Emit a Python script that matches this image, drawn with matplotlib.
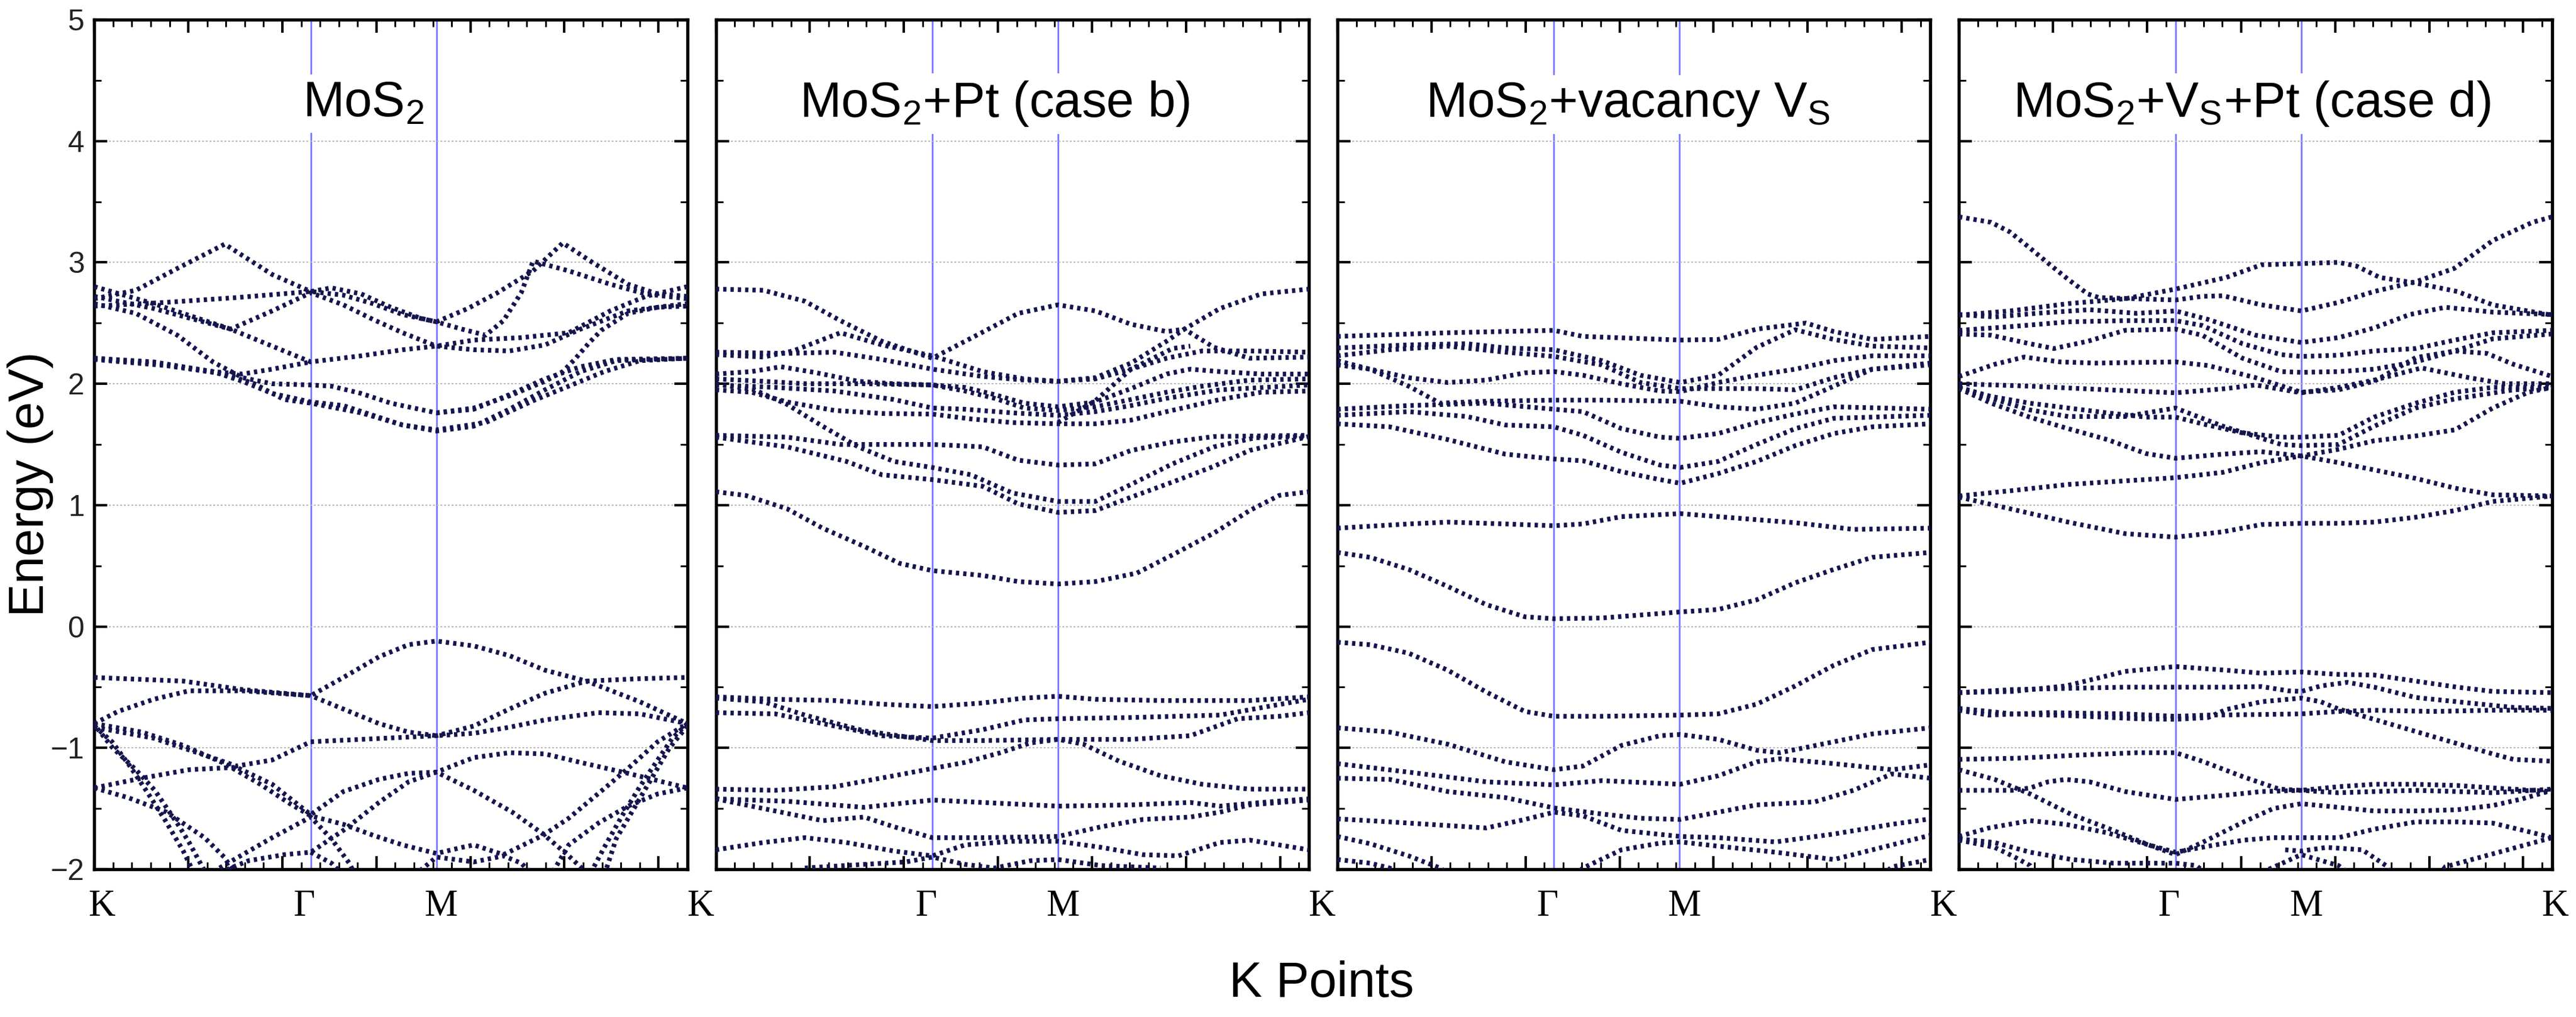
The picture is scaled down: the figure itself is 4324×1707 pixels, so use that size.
import matplotlib
matplotlib.use("Agg")
import matplotlib.pyplot as plt
import matplotlib.transforms as mtransforms
from matplotlib.ticker import MultipleLocator, NullFormatter
import numpy as np

plt.rcParams['font.family'] = ['Liberation Sans', 'DejaVu Sans']
plt.rcParams['mathtext.fontset'] = 'custom'
plt.rcParams['mathtext.rm'] = 'Liberation Sans'
plt.rcParams['mathtext.it'] = 'Liberation Sans:italic'
plt.rcParams['mathtext.bf'] = 'Liberation Sans:bold'

# ---------------- data ----------------
KPATH_LEN = 3.153                     # total k-path length (axis data units)
kpoint_fracs = [0.0, 0.365, 0.577, 1.0]
kpoint_labels = ["K", "Γ", "M", "K"]
panel_titles = [r"MoS$_2$", r"MoS$_2$+Pt (case b)",
                r"MoS$_2$+vacancy V$_\mathrm{S}$", r"MoS$_2$+V$_\mathrm{S}$+Pt (case d)"]
y_ticks = [-2, -1, 0, 1, 2, 3, 4, 5]

# bands: list of (k fraction along path, energy eV)
mos2_bands = [
    [(0,2.70),(0.07,2.77),(0.14,2.95),(0.22,3.15),(0.30,2.90),(0.365,2.76),(0.40,2.79),(0.45,2.74),(0.50,2.63),(0.55,2.54),(0.577,2.51),(0.63,2.62),(0.68,2.75),(0.74,2.93),(0.79,3.16),(0.84,3.00),(0.90,2.82),(0.95,2.74),(1.0,2.72)],
    [(0,2.72),(0.10,2.62),(0.23,2.45),(0.30,2.60),(0.365,2.75),(0.42,2.65),(0.47,2.53),(0.52,2.42),(0.577,2.31),(0.64,2.28),(0.70,2.27),(0.76,2.32),(0.82,2.45),(0.90,2.60),(1.0,2.66)],
    [(0,2.64),(0.12,2.67),(0.24,2.71),(0.365,2.76),(0.42,2.73),(0.47,2.66),(0.52,2.57),(0.577,2.51),(0.62,2.45),(0.66,2.40),(0.69,2.52),(0.72,2.75),(0.74,3.01),(0.80,2.93),(0.87,2.82),(0.93,2.74),(1.0,2.70)],
    [(0,2.80),(0.10,2.66),(0.23,2.45),(0.30,2.31),(0.365,2.18),(0.45,2.23),(0.52,2.28),(0.577,2.31),(0.64,2.36),(0.72,2.38),(0.80,2.42),(0.87,2.60),(0.93,2.72),(1.0,2.80)],
    [(0,2.66),(0.07,2.58),(0.14,2.40),(0.20,2.18),(0.25,2.05),(0.30,2.00),(0.365,1.99),(0.40,1.98),(0.45,1.92),(0.50,1.84),(0.577,1.76),(0.64,1.79),(0.70,1.91),(0.76,2.04),(0.82,2.14),(0.88,2.20),(1.0,2.21)],
    [(0,2.21),(0.10,2.18),(0.20,2.10),(0.25,2.08),(0.30,2.12),(0.365,2.18)],
    [(0,2.21),(0.10,2.17),(0.20,2.10),(0.25,2.02),(0.30,1.92),(0.365,1.85),(0.42,1.82),(0.47,1.74),(0.52,1.66),(0.577,1.61),(0.64,1.65),(0.70,1.79),(0.76,1.95),(0.82,2.10),(0.88,2.19),(1.0,2.21)],
    [(0,2.20),(0.12,2.15),(0.22,2.08),(0.27,2.00),(0.32,1.87),(0.365,1.84),(0.45,1.76),(0.52,1.66),(0.577,1.62),(0.66,1.68),(0.74,1.86),(0.80,1.98),(0.86,2.10),(0.92,2.19),(1.0,2.21)],
    [(0.577,1.76),(0.64,1.80),(0.70,1.90),(0.76,2.02),(0.79,2.10),(0.81,2.20),(0.835,2.34),(0.855,2.44),(0.90,2.58),(0.95,2.63),(1.0,2.64)],
    [(0,-0.42),(0.15,-0.45),(0.25,-0.52),(0.365,-0.57),(0.42,-0.42),(0.48,-0.25),(0.53,-0.15),(0.577,-0.12),(0.64,-0.16),(0.70,-0.24),(0.76,-0.36),(0.83,-0.45),(0.92,-0.43),(1.0,-0.42)],
    [(0,-0.80),(0.04,-0.70),(0.10,-0.60),(0.16,-0.53),(0.25,-0.53),(0.365,-0.57),(0.42,-0.68),(0.48,-0.80),(0.53,-0.87),(0.577,-0.90),(0.64,-0.88),(0.70,-0.83),(0.76,-0.77),(0.85,-0.71),(0.92,-0.72),(1.0,-0.80)],
    [(0,-0.83),(0.10,-0.92),(0.18,-1.05),(0.24,-1.15),(0.30,-1.10),(0.365,-0.95),(0.45,-0.93),(0.577,-0.90),(0.64,-0.82),(0.70,-0.68),(0.76,-0.55),(0.83,-0.45),(0.92,-0.62),(1.0,-0.80)],
    [(0,-0.80),(0.08,-0.87),(0.15,-0.98),(0.22,-1.13),(0.28,-1.30),(0.33,-1.46),(0.365,-1.56),(0.42,-1.63),(0.47,-1.72),(0.52,-1.80),(0.577,-1.87),(0.62,-1.82),(0.64,-1.80),(0.69,-1.88),(0.757,-1.72),(0.80,-1.58),(0.854,-1.36),(0.90,-1.17),(0.95,-0.95),(1.0,-0.80)],
    [(0,-1.33),(0.08,-1.25),(0.16,-1.18),(0.24,-1.16),(0.30,-1.30),(0.365,-1.55),(0.42,-1.36),(0.48,-1.26),(0.53,-1.21),(0.577,-1.20),(0.64,-1.08),(0.70,-1.04),(0.76,-1.05),(0.82,-1.12),(0.90,-1.21),(1.0,-1.33)],
    [(0.20,-2.05),(0.26,-1.93),(0.32,-1.88),(0.365,-1.86),(0.42,-1.68),(0.48,-1.45),(0.53,-1.28),(0.577,-1.20),(0.64,-1.35),(0.705,-1.53),(0.757,-1.71),(0.80,-1.89),(0.835,-2.05)],
    [(0,-1.33),(0.057,-1.41),(0.122,-1.53),(0.186,-1.74),(0.219,-1.90),(0.24,-2.05)],
    [(0.005,-0.84),(0.031,-1.00),(0.07,-1.18),(0.102,-1.35),(0.141,-1.63),(0.16,-1.78),(0.18,-1.96),(0.19,-2.05)],
    [(0.0,-0.82),(0.03,-0.95),(0.06,-1.15),(0.09,-1.37),(0.12,-1.60),(0.15,-1.85),(0.17,-2.05)],
    [(0.19,-2.05),(0.25,-1.88),(0.30,-1.74),(0.365,-1.57),(0.40,-1.75),(0.43,-1.95),(0.44,-2.05)],
    [(0.365,-1.86),(0.40,-1.95),(0.42,-2.05)],
    [(0.54,-2.05),(0.577,-1.90),(0.64,-1.94),(0.69,-1.89),(0.72,-1.95),(0.74,-2.05)],
    [(1.0,-0.82),(0.97,-1.00),(0.94,-1.25),(0.91,-1.50),(0.88,-1.75),(0.86,-2.05)],
    [(1.0,-0.80),(0.975,-0.92),(0.95,-1.10),(0.92,-1.32),(0.89,-1.56),(0.86,-1.82),(0.835,-2.05)],
    [(1.0,-1.33),(0.95,-1.38),(0.90,-1.48),(0.85,-1.62),(0.80,-1.80),(0.77,-2.05)],
]

mos2_pt_bands = [
    [(0,2.78),(0.08,2.77),(0.15,2.68),(0.21,2.52),(0.28,2.35),(0.365,2.21),(0.44,2.40),(0.51,2.58),(0.577,2.65),(0.64,2.60),(0.70,2.49),(0.76,2.43),(0.79,2.45),(0.85,2.62),(0.92,2.74),(1.0,2.78)],
    [(0,2.24),(0.08,2.22),(0.13,2.27),(0.21,2.42),(0.28,2.32),(0.365,2.23),(0.45,2.10),(0.52,2.04),(0.577,2.02),(0.64,2.05),(0.70,2.17),(0.76,2.35),(0.79,2.45),(0.84,2.30),(0.90,2.21),(1.0,2.22)],
    [(0,2.26),(0.12,2.25),(0.20,2.26),(0.28,2.20),(0.365,2.12),(0.45,2.06),(0.52,2.03),(0.577,2.02),(0.64,2.04),(0.70,2.12),(0.76,2.21),(0.82,2.27),(0.90,2.27),(1.0,2.26)],
    [(0,2.08),(0.06,2.10),(0.11,2.14),(0.17,2.09),(0.24,2.02),(0.30,2.00),(0.365,1.99),(0.42,1.97),(0.47,1.91),(0.52,1.84),(0.577,1.81),(0.64,1.85),(0.70,1.96),(0.76,2.08),(0.80,2.12),(0.85,2.10),(0.92,2.08),(1.0,2.08)],
    [(0,2.04),(0.08,2.02),(0.15,2.00),(0.25,2.00),(0.365,1.99),(0.42,1.94),(0.47,1.88),(0.52,1.80),(0.577,1.78),(0.64,1.81),(0.70,1.87),(0.76,1.93),(0.82,1.98),(0.90,2.03),(1.0,2.04)],
    [(0,1.99),(0.10,1.97),(0.20,1.94),(0.30,1.87),(0.365,1.80),(0.42,1.79),(0.50,1.76),(0.577,1.74),(0.64,1.77),(0.70,1.82),(0.76,1.88),(0.85,1.95),(1.0,1.99)],
    [(0,1.95),(0.06,1.93),(0.12,1.85),(0.20,1.78),(0.28,1.755),(0.365,1.75),(0.43,1.71),(0.50,1.68),(0.577,1.67),(0.64,1.67),(0.70,1.70),(0.76,1.77),(0.85,1.87),(0.92,1.93),(1.0,1.94)],
    [(0,2.00),(0.065,1.95),(0.12,1.83),(0.18,1.65),(0.24,1.48),(0.30,1.36),(0.365,1.31),(0.43,1.25),(0.50,1.10),(0.577,1.03),(0.64,1.03),(0.70,1.17),(0.77,1.34),(0.84,1.48),(0.91,1.555),(1.0,1.565)],
    [(0,1.575),(0.12,1.56),(0.21,1.50),(0.365,1.50),(0.45,1.48),(0.51,1.37),(0.577,1.33),(0.64,1.34),(0.70,1.45),(0.77,1.52),(0.84,1.565),(1.0,1.575)],
    [(0,1.56),(0.12,1.48),(0.22,1.36),(0.28,1.25),(0.365,1.21),(0.45,1.155),(0.51,1.01),(0.577,0.94),(0.64,0.955),(0.70,1.065),(0.77,1.19),(0.84,1.32),(0.90,1.45),(1.0,1.565)],
    [(0.577,1.68),(0.64,1.86),(0.70,2.12),(0.77,2.29),(0.80,2.31)],
    [(0,1.11),(0.05,1.08),(0.12,0.97),(0.18,0.81),(0.25,0.66),(0.31,0.52),(0.365,0.46),(0.45,0.42),(0.51,0.37),(0.577,0.35),(0.64,0.37),(0.71,0.44),(0.77,0.59),(0.84,0.77),(0.90,0.955),(0.95,1.08),(1.0,1.11)],
    [(0,-0.58),(0.10,-0.60),(0.20,-0.61),(0.28,-0.64),(0.365,-0.66),(0.45,-0.63),(0.52,-0.59),(0.577,-0.575),(0.64,-0.60),(0.75,-0.61),(0.90,-0.61),(1.0,-0.58)],
    [(0,-0.71),(0.10,-0.72),(0.18,-0.80),(0.28,-0.90),(0.365,-0.92),(0.45,-0.85),(0.52,-0.77),(0.577,-0.76),(0.70,-0.75),(0.85,-0.73),(0.93,-0.66),(1.0,-0.60)],
    [(0,-0.59),(0.08,-0.62),(0.15,-0.73),(0.25,-0.86),(0.365,-0.94),(0.45,-0.94),(0.577,-0.93),(0.70,-0.93),(0.80,-0.90),(0.88,-0.76),(0.95,-0.74),(1.0,-0.71)],
    [(0,-1.34),(0.10,-1.35),(0.20,-1.32),(0.30,-1.23),(0.365,-1.17),(0.42,-1.12),(0.48,-1.04),(0.53,-0.96),(0.577,-0.93),(0.62,-0.97),(0.68,-1.11),(0.75,-1.23),(0.82,-1.30),(0.90,-1.34),(1.0,-1.34)],
    [(0,-1.42),(0.12,-1.44),(0.25,-1.49),(0.365,-1.43),(0.45,-1.45),(0.577,-1.48),(0.70,-1.47),(0.80,-1.45),(0.85,-1.48),(0.92,-1.45),(1.0,-1.42)],
    [(0,-1.42),(0.10,-1.52),(0.18,-1.60),(0.25,-1.57),(0.30,-1.65),(0.365,-1.74),(0.45,-1.74),(0.577,-1.73),(0.65,-1.65),(0.72,-1.59),(0.80,-1.57),(0.85,-1.53),(0.90,-1.47),(1.0,-1.43)],
    [(0,-1.84),(0.08,-1.78),(0.15,-1.74),(0.22,-1.78),(0.30,-1.85),(0.365,-1.89),(0.42,-1.80),(0.50,-1.77),(0.577,-1.77),(0.65,-1.82),(0.72,-1.88),(0.78,-1.89),(0.85,-1.78),(0.90,-1.76),(1.0,-1.84)],
    [(0.15,-1.99),(0.25,-1.96),(0.32,-1.94),(0.365,-1.90),(0.42,-1.96),(0.47,-1.99),(0.53,-1.93),(0.577,-1.92),(0.65,-1.97),(0.75,-1.99)],
]

mos2_vs_bands = [
    [(0,2.39),(0.186,2.42),(0.365,2.44),(0.414,2.39),(0.578,2.36),(0.642,2.365),(0.707,2.45),(0.79,2.50),(0.837,2.43),(0.902,2.365),(1.0,2.39)],
    [(0,2.295),(0.12,2.32),(0.218,2.33),(0.283,2.295),(0.365,2.28),(0.446,2.19),(0.511,2.07),(0.578,2.01),(0.642,2.07),(0.707,2.30),(0.772,2.445),(0.837,2.365),(0.902,2.31),(1.0,2.295)],
    [(0,2.23),(0.088,2.28),(0.186,2.31),(0.283,2.26),(0.365,2.225),(0.446,2.155),(0.511,2.01),(0.578,1.96),(0.642,1.96),(0.707,1.96),(0.772,1.95),(0.837,2.05),(0.902,2.12),(1.0,2.155)],
    [(0,2.19),(0.055,2.12),(0.12,2.05),(0.186,2.01),(0.251,2.03),(0.316,2.09),(0.365,2.10),(0.414,2.07),(0.479,2.0),(0.544,1.94),(0.578,1.935),(0.642,2.01),(0.707,2.07),(0.772,2.12),(0.837,2.19),(0.902,2.23),(1.0,2.23)],
    [(0,2.155),(0.055,2.12),(0.12,1.98),(0.173,1.84),(0.251,1.856),(0.365,1.865),(0.446,1.865),(0.578,1.856),(0.642,1.81),(0.707,1.79),(0.772,1.84),(0.837,1.98),(0.902,2.12),(1.0,2.17)],
    [(0,1.79),(0.12,1.82),(0.251,1.84),(0.365,1.79),(0.414,1.77),(0.479,1.63),(0.544,1.56),(0.578,1.55),(0.642,1.59),(0.707,1.68),(0.772,1.75),(0.837,1.81),(1.0,1.79)],
    [(0,1.74),(0.12,1.77),(0.218,1.73),(0.283,1.66),(0.365,1.645),(0.414,1.575),(0.479,1.435),(0.544,1.33),(0.578,1.31),(0.642,1.36),(0.707,1.50),(0.772,1.63),(0.837,1.715),(1.0,1.74)],
    [(0,1.67),(0.088,1.645),(0.186,1.54),(0.283,1.42),(0.365,1.38),(0.414,1.365),(0.479,1.275),(0.544,1.21),(0.578,1.18),(0.642,1.26),(0.707,1.36),(0.772,1.49),(0.837,1.59),(0.902,1.645),(1.0,1.67)],
    [(0,0.81),(0.12,0.845),(0.186,0.86),(0.283,0.845),(0.365,0.83),(0.414,0.845),(0.479,0.905),(0.578,0.93),(0.642,0.905),(0.772,0.855),(0.87,0.80),(1.0,0.81)],
    [(0,0.61),(0.055,0.57),(0.12,0.47),(0.186,0.33),(0.251,0.18),(0.316,0.08),(0.365,0.064),(0.446,0.07),(0.578,0.12),(0.642,0.14),(0.707,0.22),(0.772,0.36),(0.837,0.47),(0.902,0.57),(1.0,0.61)],
    [(0,-0.13),(0.055,-0.15),(0.12,-0.22),(0.186,-0.36),(0.251,-0.54),(0.316,-0.70),(0.365,-0.74),(0.446,-0.74),(0.578,-0.73),(0.642,-0.72),(0.707,-0.64),(0.772,-0.49),(0.837,-0.32),(0.902,-0.19),(1.0,-0.13)],
    [(0,-0.835),(0.088,-0.87),(0.186,-0.97),(0.283,-1.115),(0.365,-1.18),(0.414,-1.15),(0.479,-0.98),(0.544,-0.90),(0.578,-0.89),(0.642,-0.93),(0.707,-1.02),(0.746,-1.04),(0.837,-0.95),(0.902,-0.885),(1.0,-0.835)],
    [(0,-1.13),(0.12,-1.20),(0.251,-1.28),(0.365,-1.305),(0.446,-1.27),(0.578,-1.30),(0.642,-1.23),(0.707,-1.115),(0.746,-1.09),(0.837,-1.13),(0.935,-1.18),(1.0,-1.14)],
    [(0,-1.25),(0.088,-1.26),(0.186,-1.36),(0.283,-1.41),(0.365,-1.495),(0.446,-1.545),(0.511,-1.58),(0.578,-1.59),(0.642,-1.53),(0.707,-1.47),(0.805,-1.445),(0.87,-1.35),(0.935,-1.215),(1.0,-1.25)],
    [(0,-1.585),(0.088,-1.61),(0.186,-1.64),(0.251,-1.66),(0.316,-1.59),(0.365,-1.53),(0.414,-1.56),(0.479,-1.68),(0.578,-1.73),(0.642,-1.74),(0.739,-1.775),(0.837,-1.71),(0.935,-1.63),(1.0,-1.585)],
    [(0,-1.73),(0.055,-1.79),(0.12,-1.89),(0.173,-1.99),(0.19,-2.05)],
    [(0.40,-2.05),(0.414,-1.99),(0.479,-1.84),(0.544,-1.785),(0.578,-1.775),(0.642,-1.81),(0.739,-1.86),(0.837,-1.92),(0.902,-1.84),(1.0,-1.72)],
    [(0,-1.92),(0.055,-1.95),(0.088,-1.99),(0.11,-2.05)],
    [(0.92,-2.05),(0.935,-1.98),(1.0,-1.92)],
]

mos2_vs_pt_bands = [
    [(0,3.375),(0.054,3.33),(0.086,3.25),(0.119,3.12),(0.151,2.99),(0.184,2.86),(0.217,2.74),(0.236,2.71),(0.30,2.70),(0.365,2.69),(0.41,2.72),(0.445,2.725),(0.51,2.65),(0.577,2.60),(0.64,2.67),(0.70,2.76),(0.77,2.84),(0.835,2.95),(0.90,3.18),(0.967,3.33),(1.0,3.375)],
    [(0,2.565),(0.086,2.60),(0.184,2.66),(0.28,2.70),(0.365,2.78),(0.45,2.875),(0.51,2.98),(0.577,2.99),(0.64,3.0),(0.67,2.97),(0.71,2.875),(0.77,2.83),(0.84,2.76),(0.90,2.65),(1.0,2.565)],
    [(0,2.57),(0.06,2.55),(0.13,2.58),(0.22,2.61),(0.30,2.58),(0.365,2.60),(0.42,2.53),(0.50,2.40),(0.577,2.34),(0.64,2.38),(0.70,2.46),(0.76,2.57),(0.82,2.63),(0.90,2.59),(1.0,2.57)],
    [(0,2.44),(0.086,2.47),(0.184,2.51),(0.28,2.52),(0.365,2.52),(0.41,2.48),(0.478,2.33),(0.543,2.24),(0.577,2.225),(0.64,2.235),(0.70,2.27),(0.77,2.29),(0.836,2.36),(0.90,2.42),(1.0,2.44)],
    [(0,2.41),(0.054,2.40),(0.119,2.33),(0.16,2.29),(0.217,2.35),(0.28,2.44),(0.365,2.45),(0.41,2.40),(0.478,2.21),(0.543,2.10),(0.577,2.094),(0.64,2.10),(0.70,2.12),(0.77,2.18),(0.836,2.27),(0.90,2.37),(1.0,2.41)],
    [(0,2.06),(0.06,2.16),(0.11,2.22),(0.17,2.18),(0.23,2.17),(0.365,2.18),(0.42,2.15),(0.50,2.05),(0.577,1.93),(0.64,1.95),(0.70,2.02),(0.77,2.215),(0.836,2.27),(0.89,2.25),(0.935,2.16),(1.0,2.06)],
    [(0,2.0),(0.12,1.98),(0.25,1.95),(0.365,1.925),(0.45,1.96),(0.50,1.99),(0.577,1.925),(0.64,1.97),(0.70,2.03),(0.78,2.13),(0.86,2.05),(0.92,2.0),(1.0,2.0)],
    [(0,1.97),(0.054,1.895),(0.119,1.84),(0.184,1.80),(0.25,1.76),(0.315,1.725),(0.365,1.725),(0.41,1.67),(0.478,1.595),(0.543,1.56),(0.577,1.56),(0.64,1.575),(0.70,1.725),(0.77,1.84),(0.836,1.93),(0.90,1.97),(1.0,1.97)],
    [(0,1.965),(0.054,1.88),(0.119,1.785),(0.184,1.73),(0.28,1.73),(0.365,1.80),(0.445,1.65),(0.543,1.50),(0.577,1.49),(0.64,1.50),(0.70,1.65),(0.77,1.80),(0.836,1.875),(0.935,1.95),(1.0,1.965)],
    [(0,1.96),(0.054,1.84),(0.119,1.725),(0.184,1.63),(0.25,1.54),(0.315,1.425),(0.365,1.386),(0.445,1.42),(0.51,1.44),(0.577,1.405),(0.64,1.35),(0.70,1.29),(0.77,1.22),(0.836,1.14),(0.90,1.085),(1.0,1.075)],
    [(0,1.075),(0.09,1.12),(0.184,1.17),(0.28,1.20),(0.365,1.226),(0.445,1.27),(0.51,1.35),(0.577,1.405),(0.64,1.46),(0.70,1.53),(0.77,1.57),(0.836,1.62),(0.90,1.80),(0.96,1.93),(1.0,1.97)],
    [(0,1.066),(0.086,0.97),(0.184,0.86),(0.28,0.765),(0.365,0.736),(0.445,0.78),(0.51,0.84),(0.577,0.85),(0.64,0.85),(0.70,0.86),(0.77,0.90),(0.836,0.955),(0.90,1.03),(1.0,1.075)],
    [(0,-0.545),(0.09,-0.535),(0.18,-0.49),(0.28,-0.37),(0.365,-0.33),(0.45,-0.36),(0.51,-0.385),(0.577,-0.375),(0.64,-0.395),(0.70,-0.40),(0.77,-0.45),(0.84,-0.50),(0.90,-0.535),(1.0,-0.545)],
    [(0,-0.545),(0.09,-0.52),(0.18,-0.51),(0.28,-0.50),(0.365,-0.50),(0.45,-0.50),(0.51,-0.495),(0.555,-0.53),(0.577,-0.535),(0.61,-0.49),(0.655,-0.46),(0.70,-0.50),(0.77,-0.585),(0.84,-0.62),(0.90,-0.65),(0.935,-0.667),(1.0,-0.675)],
    [(0,-0.675),(0.09,-0.72),(0.19,-0.735),(0.30,-0.76),(0.365,-0.765),(0.42,-0.75),(0.45,-0.685),(0.51,-0.62),(0.577,-0.59),(0.61,-0.62),(0.64,-0.68),(0.70,-0.765),(0.77,-0.865),(0.84,-0.965),(0.90,-1.05),(0.935,-1.095),(1.0,-1.11)],
    [(0,-0.69),(0.05,-0.73),(0.15,-0.71),(0.28,-0.72),(0.365,-0.74),(0.42,-0.73),(0.51,-0.725),(0.577,-0.72),(0.64,-0.70),(0.70,-0.69),(0.80,-0.70),(0.90,-0.69),(1.0,-0.69)],
    [(0,-1.095),(0.10,-1.085),(0.20,-1.06),(0.30,-1.04),(0.365,-1.04),(0.41,-1.11),(0.48,-1.24),(0.54,-1.34),(0.577,-1.35),(0.64,-1.32),(0.70,-1.30),(0.77,-1.30),(0.84,-1.31),(0.90,-1.33),(1.0,-1.36)],
    [(0,-1.35),(0.09,-1.35),(0.12,-1.33),(0.15,-1.28),(0.18,-1.26),(0.22,-1.28),(0.28,-1.36),(0.365,-1.425),(0.45,-1.39),(0.51,-1.36),(0.577,-1.35),(0.64,-1.37),(0.70,-1.36),(0.77,-1.35),(0.84,-1.36),(0.90,-1.37),(1.0,-1.34)],
    [(0,-1.18),(0.06,-1.26),(0.12,-1.38),(0.19,-1.55),(0.25,-1.66),(0.32,-1.80),(0.365,-1.88),(0.41,-1.78),(0.48,-1.61),(0.53,-1.50),(0.577,-1.46),(0.64,-1.49),(0.70,-1.52),(0.77,-1.52),(0.84,-1.51),(0.90,-1.475),(0.95,-1.42),(1.0,-1.35)],
    [(0,-1.73),(0.05,-1.66),(0.12,-1.60),(0.18,-1.63),(0.25,-1.70),(0.32,-1.80),(0.365,-1.86),(0.42,-1.81),(0.48,-1.76),(0.53,-1.74),(0.577,-1.74),(0.64,-1.74),(0.70,-1.67),(0.77,-1.61),(0.84,-1.61),(0.90,-1.62),(0.96,-1.69),(1.0,-1.74)],
    [(0,-1.75),(0.06,-1.78),(0.12,-1.86),(0.19,-1.92),(0.26,-1.95),(0.365,-1.95),(0.40,-1.97),(0.42,-2.05)],
    [(0.50,-2.05),(0.577,-1.88),(0.64,-1.97),(0.66,-2.05)],
    [(0.55,-1.84),(0.577,-1.85),(0.62,-1.82),(0.68,-1.84),(0.72,-1.97),(0.73,-2.05)],
    [(0.81,-2.05),(0.82,-1.98),(0.88,-1.90),(0.94,-1.82),(1.0,-1.74)],
    [(0,-1.76),(0.06,-1.82),(0.09,-1.89),(0.12,-1.97),(0.13,-2.05)],
]

all_bands = [mos2_bands, mos2_pt_bands, mos2_vs_bands, mos2_vs_pt_bands]
title_x = [0.454, 0.47, 0.49, 0.494]

# ---------------- figure ----------------
BAND_COLOR = "#15154d"
VLINE_COLOR = "#7c7cff"

fig = plt.figure(figsize=(4324/300, 1707/300), dpi=300)
left0, step, width = 0.0366, 0.2413, 0.2302
bottom, height = 0.1453, 0.8354
label_shift = [-0.011, 0.008, 0.022]   # small visual offsets of Γ, M, K labels (axes fraction)

for i, bands in enumerate(all_bands):
    ax = fig.add_axes([left0 + i*step, bottom, width, height])
    ax.set_xlim(0, KPATH_LEN)
    ax.set_ylim(-2, 5)
    for f in kpoint_fracs[1:3]:
        ax.axvline(f*KPATH_LEN, color=VLINE_COLOR, lw=0.7, zorder=1)
    for band in bands:
        kf = np.array([p[0] for p in band])
        en = np.array([p[1] for p in band])
        ax.plot(kf*KPATH_LEN, en, color=BAND_COLOR, lw=1.9,
                ls=(0, (0.7, 0.85)), zorder=3)
    ax.yaxis.set_major_locator(plt.FixedLocator(y_ticks))
    ax.yaxis.set_minor_locator(MultipleLocator(0.5))
    ax.xaxis.set_major_locator(MultipleLocator(0.5))
    ax.xaxis.set_minor_locator(MultipleLocator(0.1))
    ax.xaxis.set_major_formatter(NullFormatter())
    ax.grid(axis='y', which='major', color='#b8b8b8', ls=(0, (1.5, 1.5)), lw=0.5, zorder=0)
    ax.tick_params(which='both', direction='in', top=True, right=True,
                   bottom=True, left=True)
    ax.tick_params(which='major', length=5.2, width=1.0)
    ax.tick_params(which='minor', length=2.8, width=0.7)
    ax.tick_params(axis='y', labelsize=12, pad=4, labelcolor='#222222')
    if i > 0:
        ax.yaxis.set_major_formatter(NullFormatter())
    for sp in ax.spines.values():
        sp.set_linewidth(1.3)
    # k-point labels (axes-fraction positions)
    lab_pos = []
    if i == 0:
        lab_pos.append((kpoint_fracs[0] + 0.013, kpoint_labels[0]))
    lab_pos.append((kpoint_fracs[1] + label_shift[0], kpoint_labels[1]))
    lab_pos.append((kpoint_fracs[2] + label_shift[1], kpoint_labels[2]))
    lab_pos.append((kpoint_fracs[3] + (label_shift[2] if i < 3 else 0.005), kpoint_labels[3]))
    for f, lab in lab_pos:
        ax.text(f, -0.044, lab, transform=ax.transAxes, ha='center', va='center',
                fontsize=15, family=['Liberation Serif', 'DejaVu Serif'])
    ax.text(title_x[i], 4.2, panel_titles[i],
            transform=mtransforms.blended_transform_factory(ax.transAxes, ax.transData),
            ha='center', va='baseline', fontsize=20, zorder=5,
            bbox=dict(boxstyle='square,pad=0.12', facecolor='white', edgecolor='none'))

fig.text(0.0118, 0.524, "Energy (eV)", rotation=90, ha='center', va='center', fontsize=20)
fig.text(0.513, 0.033, "K Points", ha='center', va='center', fontsize=20)

fig.savefig("out.png", dpi=300)
